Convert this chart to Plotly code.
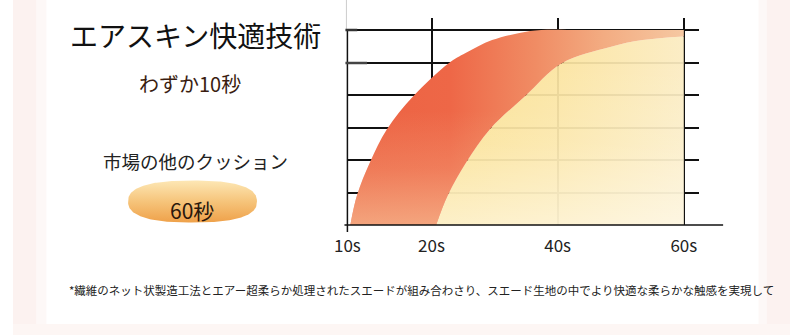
import numpy as np
import plotly.graph_objects as go

# ---- data (x in axis position units: 10s=0, 20s=2, 40s=5, 60s=8) ----
tick_pos = [0, 2, 5, 8]
tick_text = ["10s", "20s", "40s", "60s"]
grid_levels = [1, 2, 3, 4, 5, 6]

# Air-skin technology curve (fast: reaches top by ~40s)
red_x = [0.07, 0.23, 0.54, 0.94, 1.57, 2.41, 2.81, 3.44, 4.09, 4.61, 5.6, 8.0]
red_y = [0.0, 0.92, 1.94, 2.95, 3.97, 4.98, 5.29, 5.69, 5.91, 6.0, 6.0, 6.0]

# Other cushions on the market (slow: ~60s)
yel_x = [2.11, 2.39, 2.83, 3.39, 4.23, 5.10, 6.25, 7.02, 8.0]
yel_y = [0.0, 0.92, 1.94, 2.95, 3.97, 4.98, 5.48, 5.69, 5.80]

title_text = "エアスキン快適技術"
fast_text = "わずか10秒"
other_text = "市場の他のクッション"
slow_text = "60秒"
note_text = "*繊維のネット状製造工法とエアー超柔らか処理されたスエードが組み合わさり、スエード生地の中でより快適な柔らかな触感を実現して"

W, H = 790, 335
JP = "Noto Sans CJK JP"


def px(x):
    return x / W


def py(y):
    return 1 - y / H


fig = go.Figure()

# yellow base
fig.add_trace(go.Scatter(
    x=yel_x, y=yel_y, mode="lines", line=dict(width=0, shape="spline", color="rgba(0,0,0,0)"),
    fill="tozeroy",
    fillgradient=dict(type="horizontal", start=2, stop=8,
                      colorscale=[[0, "rgba(250,222,135,0.93)"], [0.5, "rgba(251,228,160,0.93)"],
                                  [1, "rgba(251,236,195,0.93)"]]),
    hoverinfo="skip", showlegend=False))
# yellow lightening overlay (bottom whiter)
fig.add_trace(go.Scatter(
    x=yel_x, y=yel_y, mode="lines", line=dict(width=0, shape="spline", color="rgba(0,0,0,0)"),
    fill="tozeroy",
    fillgradient=dict(type="vertical", start=0, stop=5,
                      colorscale=[[0, "rgba(255,255,255,0.5)"], [0.5, "rgba(255,255,255,0.15)"],
                                  [1, "rgba(255,255,255,0)"]]),
    hoverinfo="skip", showlegend=False))
# red band
fig.add_trace(go.Scatter(
    x=red_x, y=red_y, mode="lines", line=dict(width=0, shape="spline", color="rgba(0,0,0,0)"),
    fill="tonexty",
    fillgradient=dict(type="horizontal", start=0, stop=8,
                      colorscale=[[0, "#ec6242"], [0.3, "#ee6747"], [0.55, "#f08c64"],
                                  [0.75, "#f3ac82"], [1, "#f6caa4"]]),
    hoverinfo="skip", showlegend=False))
# ghost of yellow for overlay band
fig.add_trace(go.Scatter(
    x=yel_x, y=yel_y, mode="lines", line=dict(width=0, shape="spline", color="rgba(0,0,0,0)"),
    hoverinfo="skip", showlegend=False))
# red band lightening overlay (bottom lighter)
fig.add_trace(go.Scatter(
    x=red_x, y=red_y, mode="lines", line=dict(width=0, shape="spline", color="rgba(0,0,0,0)"),
    fill="tonexty",
    fillgradient=dict(type="vertical", start=0, stop=3.5,
                      colorscale=[[0, "rgba(247,192,150,0.7)"], [0.5, "rgba(247,192,150,0.25)"],
                                  [1, "rgba(247,192,150,0)"]]),
    hoverinfo="skip", showlegend=False))

# pill behind "60秒" (decorative, in pixel space)
cx, cy, a, b, n = 182.5, 201.5, 65.5, 21.0, 2.5
t = np.linspace(0, 2 * np.pi, 240)
pill_x = cx + a * np.sign(np.cos(t)) * np.abs(np.cos(t)) ** (2 / n)
pill_y = cy + b * np.sign(np.sin(t)) * np.abs(np.sin(t)) ** (2 / n)
fig.add_trace(go.Scatter(
    x=pill_x, y=pill_y, xaxis="x2", yaxis="y2", mode="lines",
    line=dict(width=0, color="rgba(0,0,0,0)"), fill="toself",
    fillgradient=dict(type="vertical", start=222, stop=180,
                      colorscale=[[0, "#efa24b"], [0.5, "#f6c57c"], [1, "#fde8b6"]]),
    hoverinfo="skip", showlegend=False))

shapes = []
# soft pink edges
for x0, x1, c in [(0, 24, "#fcf2f0"), (24, 34, "#fdf8f7"), (766, 790, "#fcf2f0"), (758, 766, "#fdf8f7")]:
    shapes.append(dict(type="rect", xref="paper", yref="paper", x0=px(x0), x1=px(x1), y0=0, y1=1,
                       fillcolor=c, line=dict(width=0), layer="below"))
shapes.append(dict(type="rect", xref="paper", yref="paper", x0=0, x1=1, y0=py(335), y1=py(324),
                   fillcolor="#fdf6f4", line=dict(width=0), layer="below"))
# axis lines
shapes.append(dict(type="line", xref="paper", yref="paper", x0=px(337), x1=px(722), y0=py(225), y1=py(225),
                   line=dict(color="#111", width=1.5)))
shapes.append(dict(type="line", xref="paper", yref="paper", x0=px(340), x1=px(340), y0=py(232), y1=py(30),
                   line=dict(color="#111", width=1.5)))
shapes.append(dict(type="line", xref="paper", yref="paper", x0=px(339), x1=px(339), y0=py(30), y1=py(0),
                   line=dict(color="#cccccc", width=1)))
# small marks on left
shapes.append(dict(type="line", xref="paper", yref="paper", x0=px(338), x1=px(350), y0=py(30), y1=py(30),
                   line=dict(color="#333", width=2.5)))
shapes.append(dict(type="line", xref="paper", yref="paper", x0=px(338), x1=px(360), y0=py(63), y1=py(63),
                   line=dict(color="#444", width=2.5)))

annotations = [
    dict(text=title_text, x=px(186), y=py(35), font=dict(family=JP, size=28, color="#111")),
    dict(text=fast_text, x=px(180), y=py(84), font=dict(family=JP, size=20, color="#3a1d10")),
    dict(text=other_text, x=px(186), y=py(161), font=dict(family=JP, size=18.5, color="#222")),
    dict(text=slow_text, x=px(182), y=py(210), font=dict(family=JP, size=21, color="#2a170c")),
    dict(text=note_text, x=px(55), y=py(290), xanchor="left", font=dict(family=JP, size=11.5, color="#222")),
]
for an in annotations:
    an.update(xref="paper", yref="paper", showarrow=False)
    an.setdefault("xanchor", "center")
    an["yanchor"] = "middle"

fig.update_layout(
    width=W, height=H, margin=dict(l=0, r=0, t=0, b=0),
    paper_bgcolor="white", plot_bgcolor="rgba(0,0,0,0)",
    showlegend=False,
    xaxis=dict(domain=[px(340), px(697)], range=[0, 8.35], tickvals=tick_pos, ticktext=tick_text,
               showgrid=True, gridcolor="#111", gridwidth=1.5, zeroline=False, showline=False,
               ticks="outside", ticklen=6, tickcolor="rgba(0,0,0,0)",
               tickfont=dict(family=JP, size=17, color="#222"), fixedrange=True),
    yaxis=dict(domain=[py(225), py(18)], range=[0, 6.37], tickvals=grid_levels,
               showticklabels=False, showgrid=True, gridcolor="#111", gridwidth=1.5,
               zeroline=False, showline=False, ticks="", fixedrange=True),
    xaxis2=dict(domain=[0, 1], range=[0, W], visible=False, anchor="y2", fixedrange=True),
    yaxis2=dict(domain=[0, 1], range=[H, 0], visible=False, anchor="x2", fixedrange=True),
    shapes=shapes, annotations=annotations,
)

fig.write_html("out.html", config={"displayModeBar": False})
